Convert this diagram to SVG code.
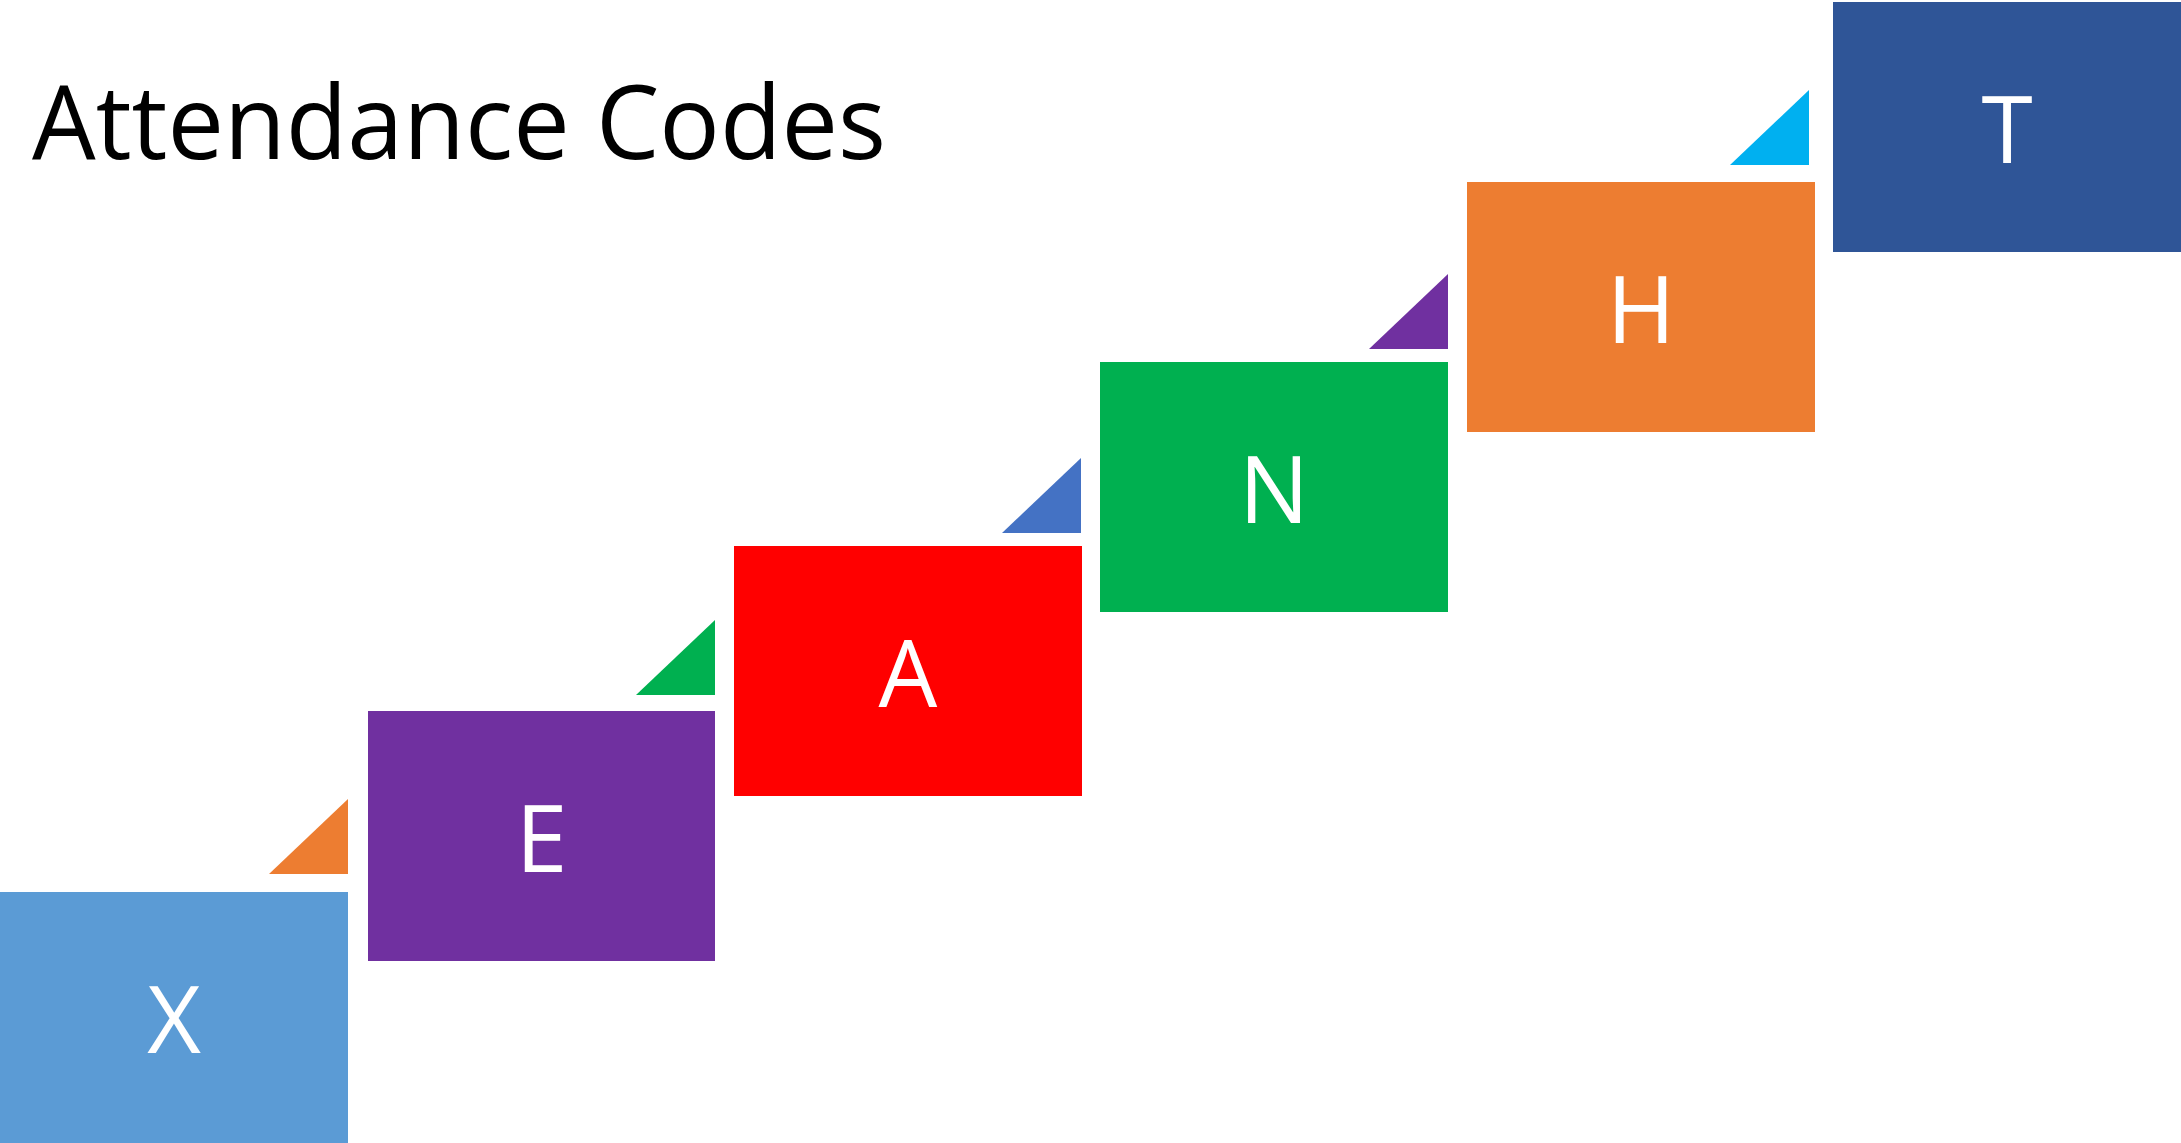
<svg xmlns="http://www.w3.org/2000/svg" width="2181" height="1143" viewBox="0 0 2181 1143">
<style>
.lbl{font-family:"Open Sans","Liberation Sans",sans-serif;font-size:93px;fill:#ffffff;text-anchor:middle}
.title{font-family:"Open Sans","Liberation Sans",sans-serif;font-size:102px;fill:#000000}
</style>
<rect width="2181" height="1143" fill="#ffffff"/>
<text class="title" x="32" y="159" textLength="854" lengthAdjust="spacingAndGlyphs">Attendance Codes</text>
<g id="connectors">
<polygon points="269,874 348,874 348,799" fill="#ED7D31"/>
<polygon points="636,695 715,695 715,620" fill="#00B050"/>
<polygon points="1002,533 1081,533 1081,458" fill="#4472C4"/>
<polygon points="1369,349 1448,349 1448,274" fill="#7030A0"/>
<polygon points="1730,165 1809,165 1809,90" fill="#00B0F0"/>
</g>
<g id="node-X"><rect x="0" y="892" width="348" height="251" fill="#5B9BD5"/><text class="lbl" x="174" y="1053">X</text></g>
<g id="node-E"><rect x="368" y="711" width="347" height="250" fill="#7030A0"/><text class="lbl" x="541.5" y="872">E</text></g>
<g id="node-A"><rect x="734" y="546" width="348" height="250" fill="#FF0000"/><text class="lbl" x="908" y="707">A</text></g>
<g id="node-N"><rect x="1100" y="362" width="348" height="250" fill="#00B050"/><text class="lbl" x="1274" y="523">N</text></g>
<g id="node-H"><rect x="1467" y="182" width="348" height="250" fill="#ED7D31"/><text class="lbl" x="1641" y="343">H</text></g>
<g id="node-T"><rect x="1833" y="2" width="348" height="250" fill="#2F5597"/><text class="lbl" x="2007" y="163">T</text></g>
</svg>
